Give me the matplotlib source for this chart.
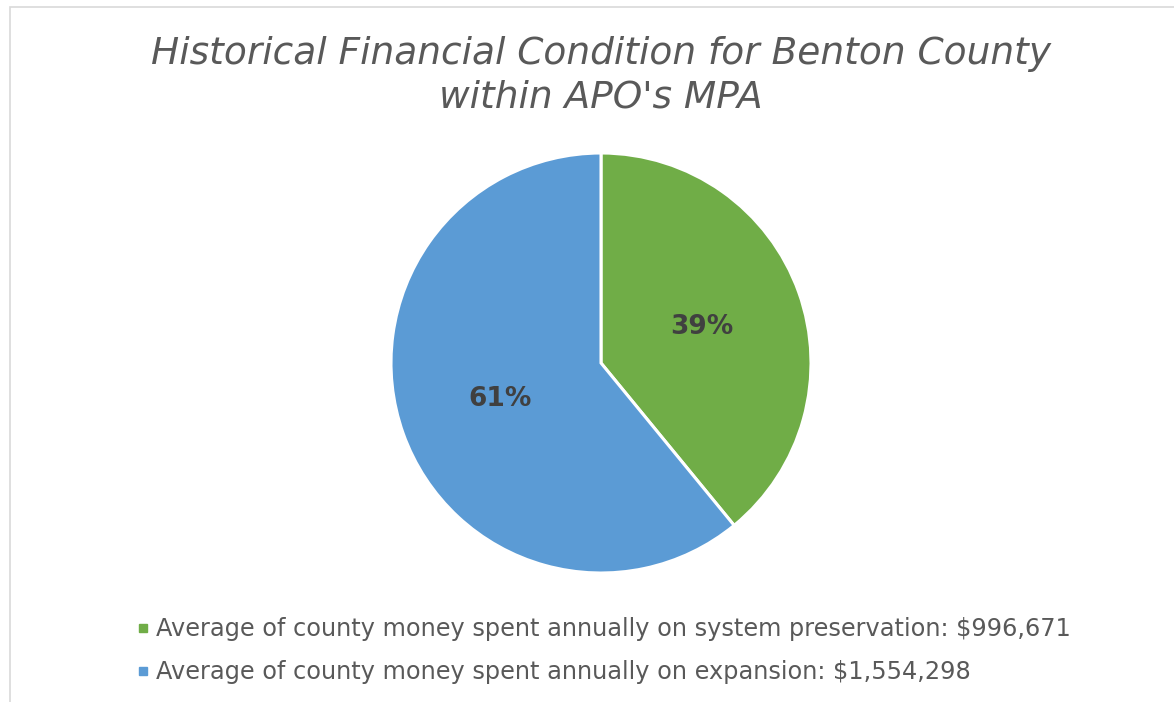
import matplotlib.pyplot as plt
from matplotlib.lines import Line2D
from matplotlib.patches import Rectangle

# ---------- data ----------
categories = [
    "Average of county money spent annually on system preservation: $996,671",
    "Average of county money spent annually on expansion: $1,554,298",
]
values = [996671, 1554298]
colors = ["#70AD47", "#5B9BD5"]
title = "Historical Financial Condition for Benton County\nwithin APO's MPA"

W, H = 1174, 702
fig = plt.figure(figsize=(W / 100, H / 100), dpi=100)
fig.patch.set_facecolor("white")

# light chart-area border (left/top visible, right/bottom run off the image)
fig.patches.append(Rectangle((10 / W, -0.1), 1.2, (H - 7) / H + 0.1,
                             transform=fig.transFigure, fill=False,
                             edgecolor="#d9d9d9", linewidth=1.2))

# pie centred at (601, 363) px with radius 210 px
cx, cy, r = 601, 363, 210
ax = fig.add_axes([(cx - r) / W, (H - cy - r) / H, 2 * r / W, 2 * r / H])
wedges, texts, autotexts = ax.pie(
    values, colors=colors, startangle=90, counterclock=False,
    autopct="%1.0f%%", pctdistance=0.51,
    wedgeprops=dict(edgecolor="white", linewidth=2.2),
    textprops=dict(fontsize=19, fontweight="bold", color="#404040"),
)
ax.set_xlim(-1, 1)
ax.set_ylim(-1, 1)
ax.set_aspect("auto")
ax.axis("off")

fig.text(cx / W, 1 - 76 / H, title, ha="center", va="center",
         fontsize=27, style="italic", color="#595959", linespacing=1.27)

handles = [Line2D([], [], marker="s", linestyle="none", markersize=6,
                  markerfacecolor=c, markeredgecolor=c) for c in colors]
leg = fig.legend(handles, categories, loc="upper left",
                 bbox_to_anchor=(124 / W, 1 - 605 / H), frameon=False,
                 fontsize=17.3, labelcolor="#595959", handlelength=0.6,
                 handletextpad=0.22, labelspacing=0.8, borderpad=0)

fig.savefig("out.png", dpi=100, facecolor="white")
